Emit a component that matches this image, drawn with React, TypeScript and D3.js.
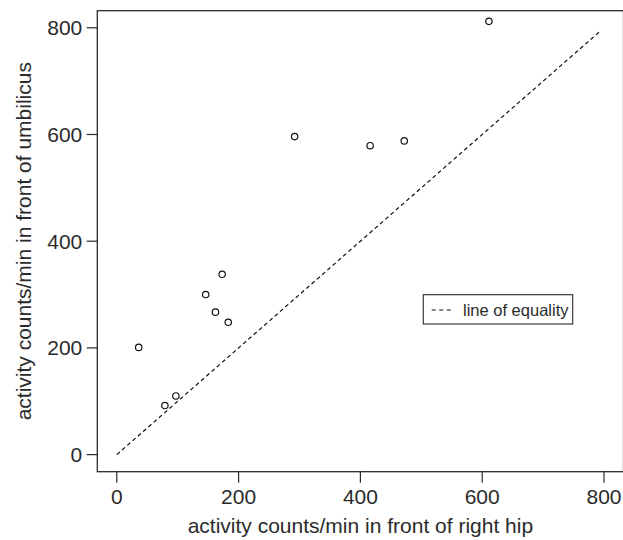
import React, { useEffect, useRef } from 'react';
import * as d3 from 'd3';

// counts/min
const hipCounts = [36, 79, 97, 146, 162, 173, 183, 292, 416, 472, 611];
const umbilicusCounts = [201, 92, 110, 300, 267, 338, 248, 596, 579, 588, 812];
const tickValues = [0, 200, 400, 600, 800];
const equalityEnd = 795;

const App = () => {
  const ref = useRef<SVGSVGElement>(null);

  useEffect(() => {
    const svg = d3.select(ref.current);
    svg.selectAll('*').remove();

    const left = 97.3, right = 623.5, top = 10.7, bottom = 471.7;
    const ink = '#2b2b2b';
    const font = 'Liberation Sans, Arial, sans-serif';

    const x = d3.scaleLinear().domain([-32, 832]).range([left, right]);
    const y = d3.scaleLinear().domain([-32, 832]).range([bottom, top]);

    // plot frame
    svg.append('rect')
       .attr('x', left).attr('y', top)
       .attr('width', right - left).attr('height', bottom - top)
       .attr('fill', 'none').attr('stroke', ink).attr('stroke-width', 1.3);

    // x axis
    const xAxis = svg.append('g');
    xAxis.selectAll('line').data(tickValues).enter().append('line')
         .attr('x1', d => x(d)).attr('x2', d => x(d))
         .attr('y1', bottom).attr('y2', bottom + 11)
         .attr('stroke', ink).attr('stroke-width', 1.2);
    xAxis.selectAll('text').data(tickValues).enter().append('text')
         .attr('x', d => x(d)).attr('y', bottom + 32)
         .attr('text-anchor', 'middle')
         .style('font-family', font).style('font-size', '21px').style('fill', ink)
         .text(d => d);

    // y axis
    const yAxis = svg.append('g');
    yAxis.selectAll('line').data(tickValues).enter().append('line')
         .attr('x1', left - 10.6).attr('x2', left)
         .attr('y1', d => y(d)).attr('y2', d => y(d))
         .attr('stroke', ink).attr('stroke-width', 1.2);
    yAxis.selectAll('text').data(tickValues).enter().append('text')
         .attr('x', left - 15).attr('y', d => y(d))
         .attr('dy', '0.36em')
         .attr('text-anchor', 'end')
         .style('font-family', font).style('font-size', '21px').style('fill', ink)
         .text(d => d);

    svg.append('text')
       .attr('x', (left + right) / 2).attr('y', 533)
       .attr('text-anchor', 'middle')
       .style('font-family', font).style('font-size', '21px').style('fill', ink)
       .text('activity counts/min in front of right hip');

    svg.append('text')
       .attr('transform', `translate(31,${(top + bottom) / 2}) rotate(-90)`)
       .attr('text-anchor', 'middle')
       .style('font-family', font).style('font-size', '21px').style('fill', ink)
       .text('activity counts/min in front of umbilicus');

    // line of equality
    svg.append('line')
       .attr('x1', x(0)).attr('y1', y(0))
       .attr('x2', x(equalityEnd)).attr('y2', y(equalityEnd))
       .attr('stroke', '#111').attr('stroke-width', 1.2)
       .attr('stroke-dasharray', '4,3');

    // points
    svg.append('g')
       .selectAll('circle')
       .data(hipCounts.map((h, i) => [h, umbilicusCounts[i]]))
       .enter().append('circle')
       .attr('cx', d => x(d[0])).attr('cy', d => y(d[1]))
       .attr('r', 3.2)
       .attr('fill', 'none').attr('stroke', '#111').attr('stroke-width', 1.2);

    // legend
    const legend = svg.append('g');
    legend.append('rect')
          .attr('x', 423.3).attr('y', 294.7)
          .attr('width', 149.4).attr('height', 29.3)
          .attr('fill', 'white').attr('stroke', ink).attr('stroke-width', 1.1);
    legend.append('line')
          .attr('x1', 431.7).attr('x2', 451)
          .attr('y1', 310).attr('y2', 310)
          .attr('stroke', '#111').attr('stroke-width', 1.2)
          .attr('stroke-dasharray', '4,3.5');
    legend.append('text')
          .attr('x', 463).attr('y', 315.5)
          .style('font-family', font).style('font-size', '16.5px').style('fill', ink)
          .text('line of equality');
  }, []);

  return (
    <svg ref={ref} width={623} height={540}
         style={{ position: 'absolute', left: 0, top: 0, background: 'white' }} />
  );
};

export default App;
